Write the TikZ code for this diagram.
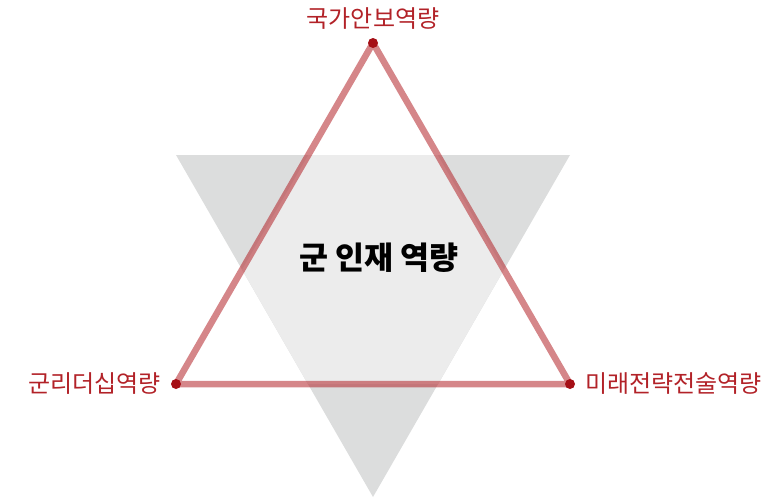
\documentclass[tikz,border=0pt]{standalone}
\usepackage{fontspec}
\newfontfamily\krfont{Noto Sans CJK KR}
\usetikzlibrary{positioning}
\definecolor{my_red}{RGB}{178, 34, 40}
\definecolor{my_dotred}{RGB}{165, 15, 22}
\definecolor{my_gray}{RGB}{220, 221, 221}
\definecolor{my_lightgray}{RGB}{236, 236, 236}
\tikzset {
  tri/.style = {fill=my_gray, draw=none},
  inner/.style = {fill=my_lightgray, draw=none},
  edge/.style = {draw=my_red, draw opacity=0.55, line width=6.5pt, line join=round},
  dot/.style = {circle, fill=my_dotred, inner sep=0pt, minimum size=10pt},
  label/.style = {font=\krfont\fontsize{24}{28}\selectfont, text=my_red, inner sep=0pt},
  title/.style = {font=\krfont\bfseries\fontsize{31.5}{36}\selectfont, text=black, inner sep=0pt}
}
\begin{document}
\begin{tikzpicture}[x=1pt, y=-1pt]
    \useasboundingbox (0,0) rectangle (782,498);

    % corners of the two triangles
    \coordinate (top) at (373,43);
    \coordinate (bl) at (176,384);
    \coordinate (br) at (570,384);
    \coordinate (tl) at (176,155);
    \coordinate (tr) at (570,155);
    \coordinate (bottom) at (373,497);

    \fill[tri] (tl) -- (tr) -- (bottom) -- cycle;
    \begin{scope}
      \clip (top) -- (bl) -- (br) -- cycle;
      \fill[inner] (tl) -- (tr) -- (bottom) -- cycle;
    \end{scope}
    \draw[edge] (top) -- (bl) -- (br) -- cycle;

    \node[dot] (dtop) at (top) {};
    \node[dot] (dbl) at (bl) {};
    \node[dot] (dbr) at (br) {};

    \node[label, above=8pt of dtop] (security) {국가안보역량};
    \node[label, left=10pt of dbl] (leader) {군리더십역량};
    \node[label, right=10pt of dbr] (future) {미래전략전술역량};
    \node[title] (talent) at (379,258) {군 인재 역량};

\end{tikzpicture}
\end{document}
